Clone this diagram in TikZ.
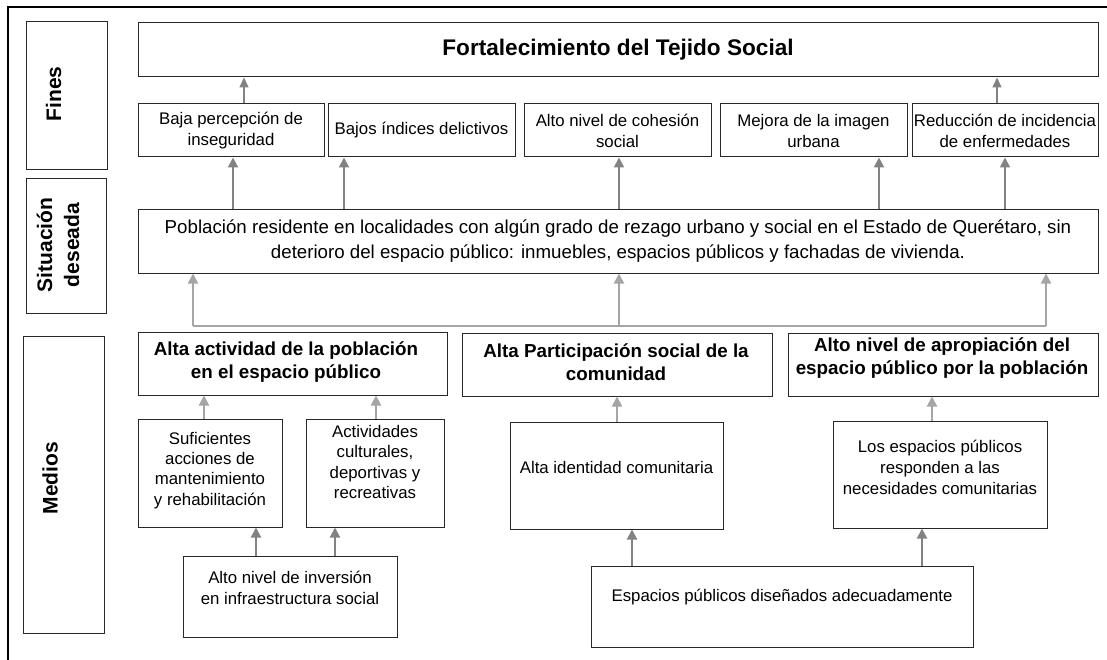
\documentclass[tikz,border=0pt]{standalone}
\usepackage{fontspec}
\setmainfont{Liberation Sans}
\usetikzlibrary{arrows.meta}
\definecolor{arrg}{RGB}{130,130,130}
\definecolor{arrl}{RGB}{165,165,165}
\definecolor{bord}{RGB}{40,40,40}
\newcommand{\ftxt}{\fontsize{16.8}{21}\selectfont}
\newcommand{\ftxtb}{\fontsize{16.8}{20.2}\selectfont}
\newcommand{\fsit}{\fontsize{18.7}{25}\selectfont}
\newcommand{\fbld}{\bfseries\fontsize{18.8}{23}\selectfont}
\newcommand{\fttl}{\bfseries\fontsize{22.6}{26}\selectfont}
\newcommand{\fside}{\bfseries\fontsize{21}{27}\selectfont}
\begin{document}
\begin{tikzpicture}[x=1pt,y=-1pt,
  box/.style={draw=bord,line width=1pt,inner sep=0pt,align=center,fill=white},
  txt/.style={inner sep=0pt,align=center,font=\ftxt},
  btxt/.style={inner sep=0pt,align=center,font=\fbld},
  side/.style={inner sep=0pt,align=center,font=\fside,rotate=90},
  arr/.style={draw=arrg,line width=2pt,-{Triangle[length=10pt,width=10pt]}},
  arrthin/.style={draw=arrg,line width=1.4pt,-{Triangle[length=10pt,width=9pt]}},
  arrlt/.style={draw=arrl,line width=2pt,-{Triangle[length=10pt,width=10pt]}},
  busline/.style={draw=arrl,line width=2pt}]
\useasboundingbox (0,0) rectangle (1107,660);
% outer frame
\draw[line width=1.8pt] (8,662) -- (8,7) -- (1109,7);
% side labels
\node[box,minimum width=81,minimum height=148] (L1) at (66.5,96) {};
\node[side] (L1t) at (53.5,94) {Fines};
\node[box,minimum width=80,minimum height=134] (L2) at (66,246) {};
\node[side] (L2t) at (58,245) {Situación\\deseada};
\node[box,minimum width=81,minimum height=297] (L3) at (63.5,484.5) {};
\node[side] (L3t) at (50,478) {Medios};
% title
\node[box,minimum width=960,minimum height=54,font=\fttl] (title) at (618,50) {Fortalecimiento del Tejido Social};
% fines
\node[box,minimum width=186,minimum height=53,font=\ftxt] (f1) at (231,130.5) {Baja percepción de\\inseguridad};
\node[box,minimum width=187,minimum height=53,font=\ftxt] (f2) at (421.5,130.5) {Bajos índices delictivos};
\node[box,minimum width=187,minimum height=53,font=\ftxt] (f3) at (617.5,130.5) {Alto nivel de cohesión\\social};
\node[box,minimum width=187,minimum height=53,font=\ftxt] (f4) at (813.5,130.5) {Mejora de la imagen\\urbana};
\node[box,minimum width=186,minimum height=53,font=\ftxt] (f5) at (1005,130.5) {Reducción de incidencia\\de enfermedades};
% situacion
\node[box,minimum width=960,minimum height=63,font=\fsit] (sit) at (618,241.5) {Población residente en localidades con algún grado de rezago urbano y social en el Estado de Querétaro, sin\\deterioro del espacio público: inmuebles, espacios públicos y fachadas de vivienda.};
% medios row 1
\node[box,minimum width=309,minimum height=63] (m1) at (292.5,363.5) {};
\node[btxt] (m1t) at (286,362.5) {Alta actividad de la población\\en el espacio público};
\node[box,minimum width=310,minimum height=63] (m2) at (617,364.5) {};
\node[btxt] (m2t) at (616,362.5) {Alta Participación social de la\\comunidad};
\node[box,minimum width=310,minimum height=63] (m3) at (943,364.5) {};
\node[btxt] (m3t) at (942,358.5) {Alto nivel de apropiación del\\espacio público por la población};
% medios row 2
\node[box,minimum width=144,minimum height=108] (s1) at (210,473) {};
\node[txt,font=\ftxtb] (s1t) at (210,470.5) {Suficientes\\acciones de\\mantenimiento\\y rehabilitación};
\node[box,minimum width=138,minimum height=108] (s2) at (375,473) {};
\node[txt,font=\ftxtb] (s2t) at (375,462) {Actividades\\culturales,\\deportivas y\\recreativas};
\node[box,minimum width=213,minimum height=107] (s3) at (616.5,475.5) {};
\node[txt] (s3t) at (616.5,467) {Alta identidad comunitaria};
\node[box,minimum width=214,minimum height=107] (s4) at (940,474.5) {};
\node[txt] (s4t) at (940,467) {Los espacios públicos\\responden a las\\necesidades comunitarias};
% medios row 3
\node[box,minimum width=214,minimum height=81] (r1) at (290,596.5) {};
\node[txt] (r1t) at (290,587.5) {Alto nivel de inversión\\en infraestructura social};
\node[box,minimum width=382,minimum height=81] (r2) at (782,606.5) {};
\node[txt] (r2t) at (782,597) {Espacios públicos diseñados adecuadamente};
% arrows fines -> title
\draw[arrthin] ([xshift=13pt]f1.north) -- ([xshift=13pt]f1.north |- title.south);
\draw[arrthin] ([xshift=-8pt]f5.north) -- ([xshift=-8pt]f5.north |- title.south);
% arrows situacion -> fines
\draw[arr] ([xshift=2pt]f1.south |- sit.north) -- ([xshift=2pt]f1.south);
\draw[arr] ([xshift=-77.5pt]f2.south |- sit.north) -- ([xshift=-77.5pt]f2.south);
\draw[arr] ([xshift=1.5pt]f3.south |- sit.north) -- ([xshift=1.5pt]f3.south);
\draw[arr] ([xshift=65.5pt]f4.south |- sit.north) -- ([xshift=65.5pt]f4.south);
\draw[arr] (f5.south |- sit.north) -- (f5.south);
% bus medios -> situacion
\coordinate (busL) at (193,326);
\coordinate (busM) at (619,326);
\coordinate (busR) at (1046,326);
\draw[busline] (busL) -- (busR);
\draw[arrlt] (busL) -- (busL |- sit.south);
\draw[arrlt] (busM) -- (busM |- sit.south);
\draw[arrlt] (busR) -- (busR |- sit.south);
% row2 -> row1
\draw[arrlt] ([xshift=-6pt]s1.north) -- ([xshift=-6pt]s1.north |- m1.south);
\draw[arrlt] ([xshift=1pt]s2.north) -- ([xshift=1pt]s2.north |- m1.south);
\draw[arrlt] ([xshift=0.5pt]s3.north) -- ([xshift=0.5pt]s3.north |- m2.south);
\draw[arrlt] ([xshift=-8pt]s4.north) -- ([xshift=-8pt]s4.north |- m3.south);
% row3 -> row2
\draw[arr] ([xshift=-34pt]r1.north) -- ([xshift=-34pt]r1.north |- s1.south);
\draw[arr] ([xshift=45pt]r1.north) -- ([xshift=45pt]r1.north |- s2.south);
\draw[arr] ([xshift=-150pt]r2.north) -- ([xshift=-150pt]r2.north |- s3.south);
\draw[arr] ([xshift=140pt]r2.north) -- ([xshift=140pt]r2.north |- s4.south);
\end{tikzpicture}
\end{document}
